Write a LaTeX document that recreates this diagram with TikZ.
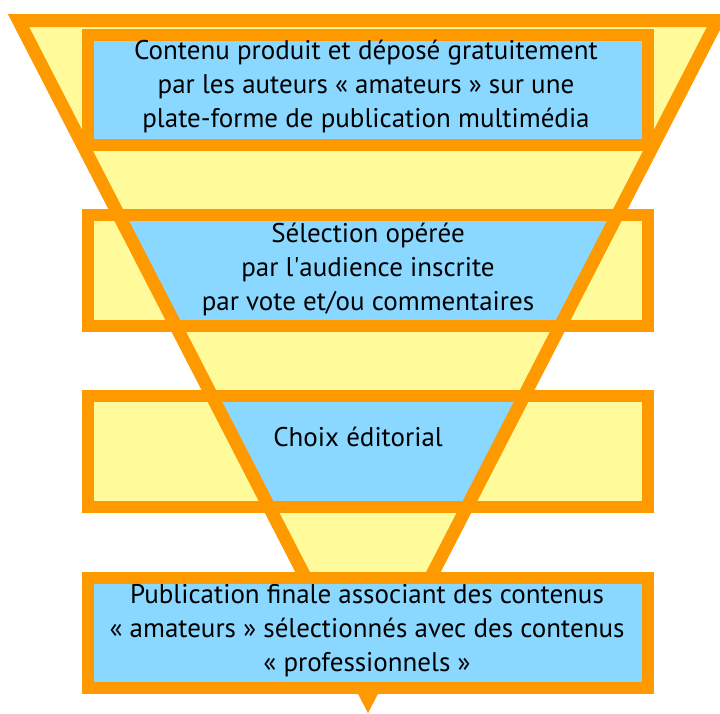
\documentclass[tikz,border=0pt]{standalone}
\usepackage{fontspec}
\setmainfont{PT Sans}
\definecolor{funnelorange}{RGB}{255,153,0}
\definecolor{funnelyellow}{RGB}{255,251,155}
\definecolor{funnelblue}{RGB}{138,216,255}

\begin{document}
\begin{tikzpicture}[x=1pt,y=-1pt,
  rim/.style={draw=funnelorange,line width=12pt},
  funnelrim/.style={draw=funnelorange,line width=13pt},
  boxtext/.style={align=center,inner sep=0pt,font=\fontsize{27}{34}\selectfont}]
\useasboundingbox (0,0) rectangle (720,713);
\coordinate (tl) at (18.5,20.5);
\coordinate (tr) at (717.5,20.5);
\coordinate (tip) at (368,699);
\fill[funnelyellow] (tl) -- (tr) -- (tip) -- cycle;
\fill[funnelblue] (88,34.5) rectangle (648,145);
\fill[funnelyellow] (88,215) rectangle (648,326);
\fill[funnelyellow] (88,396) rectangle (648,507);
\begin{scope}
\clip (tl) -- (tr) -- (tip) -- cycle;
\fill[funnelblue] (88,215) rectangle (648,326);
\fill[funnelblue] (88,396) rectangle (648,507);
\end{scope}
\draw[rim] (88,34.5) rectangle (648,145);
\draw[rim] (88,215) rectangle (648,326);
\draw[rim] (88,396) rectangle (648,507);
\draw[funnelrim] (tl) -- (tr) -- (tip) -- cycle;
\filldraw[rim,fill=funnelblue] (88,577.5) rectangle (648,688);
\node[boxtext] (produit) at (366,86) {Contenu produit et déposé gratuitement\\par les auteurs « amateurs » sur une\\plate-forme de publication multimédia};
\node[boxtext] (selection) at (368,269) {Sélection opérée\\par l\textquotesingle audience inscrite\\par vote et/ou commentaires};
\node[boxtext] (choix) at (358,437) {Choix éditorial};
\node[boxtext] (publication) at (367,631) {Publication finale associant des contenus\\« amateurs » sélectionnés avec des contenus\\« professionnels »};
\end{tikzpicture}
\end{document}
